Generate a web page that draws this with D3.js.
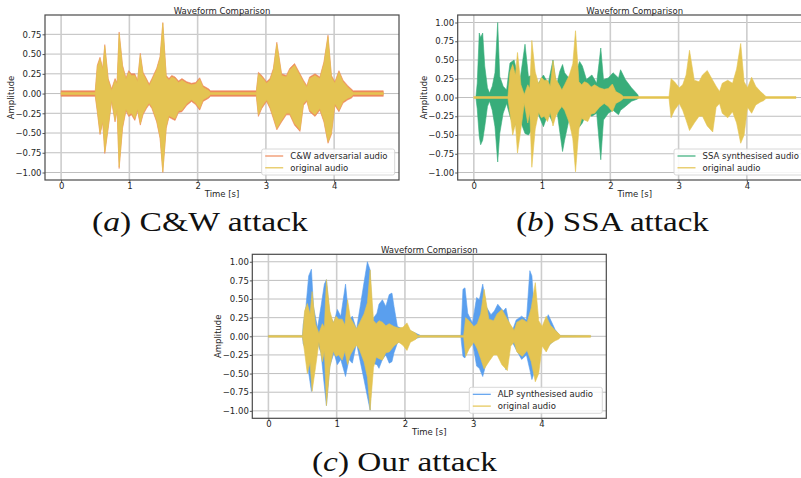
<!DOCTYPE html>
<html>
<head>
<meta charset="utf-8">
<script src="https://cdn.jsdelivr.net/npm/d3@7"></script>
<style>
  body { margin: 0; background: #fff; }
  svg { display: block; }
</style>
</head>
<body>
<div id="fig"></div>
<script>
// envelope of each waveform: [time (s), upper, lower]
var originalAudio = [
  [0, 0.012, -0.012], [0.50, 0.012, -0.012], [0.53, 0.34, -0.21], [0.57, 0.44, -0.50],
  [0.61, 0.30, -0.35], [0.64, 0.60, -0.74], [0.69, 0.17, -0.42], [0.74, 0.04, -0.08],
  [0.79, 0.17, -0.34], [0.82, 0.12, -0.20], [0.85, 0.76, -0.93], [0.90, 0.34, -0.42],
  [0.95, 0.18, -0.20], [0.99, 0.27, -0.27], [1.03, 0.23, -0.25], [1.08, 0.23, -0.32],
  [1.12, 0.15, -0.20], [1.16, 0.49, -0.38], [1.20, 0.25, -0.25], [1.25, 0.17, -0.17],
  [1.29, 0.10, -0.12], [1.33, 0.17, -0.17], [1.40, 0.30, -0.34], [1.45, 0.45, -0.55],
  [1.49, 0.89, -0.99], [1.54, 0.21, -0.42], [1.58, 0.17, -0.28], [1.62, 0.21, -0.30],
  [1.67, 0.19, -0.32], [1.72, 0.14, -0.22], [1.77, 0.17, -0.21], [1.84, 0.13, -0.13],
  [1.91, 0.11, -0.08], [1.97, 0.12, -0.12], [2.03, 0.18, -0.19], [2.08, 0.08, -0.08],
  [2.16, 0.04, -0.04], [2.19, 0.012, -0.012], [2.86, 0.012, -0.012], [2.89, 0.25, -0.27],
  [2.94, 0.21, -0.17], [3.01, 0.13, -0.08], [3.06, 0.17, -0.17], [3.11, 0.30, -0.30],
  [3.16, 0.63, -0.44], [3.23, 0.23, -0.34], [3.30, 0.21, -0.25], [3.35, 0.30, -0.25],
  [3.42, 0.36, -0.38], [3.50, 0.23, -0.46], [3.55, 0.15, -0.13], [3.60, 0.08, -0.08],
  [3.64, 0.19, -0.21], [3.72, 0.23, -0.27], [3.79, 0.19, -0.19], [3.85, 0.38, -0.34],
  [3.91, 0.72, -0.61], [3.96, 0.21, -0.50], [4.01, 0.13, -0.13], [4.07, 0.27, -0.21],
  [4.13, 0.15, -0.10], [4.20, 0.08, -0.06], [4.25, 0.04, -0.04], [4.28, 0.012, -0.012],
  [4.72, 0.012, -0.012]
];

var cwAudio = [
  [0, 0.035, -0.035], [0.50, 0.035, -0.035], [0.53, 0.36, -0.23], [0.57, 0.46, -0.52],
  [0.61, 0.32, -0.37], [0.64, 0.62, -0.76], [0.69, 0.19, -0.44], [0.74, 0.06, -0.10],
  [0.79, 0.19, -0.36], [0.82, 0.14, -0.22], [0.85, 0.78, -0.95], [0.90, 0.36, -0.44],
  [0.95, 0.20, -0.22], [0.99, 0.29, -0.29], [1.03, 0.25, -0.27], [1.08, 0.25, -0.34],
  [1.12, 0.17, -0.22], [1.16, 0.51, -0.40], [1.20, 0.27, -0.27], [1.25, 0.19, -0.19],
  [1.29, 0.12, -0.14], [1.33, 0.19, -0.19], [1.40, 0.32, -0.36], [1.45, 0.47, -0.57],
  [1.49, 0.90, -1.00], [1.54, 0.23, -0.44], [1.58, 0.19, -0.30], [1.62, 0.23, -0.32],
  [1.67, 0.21, -0.34], [1.72, 0.16, -0.24], [1.77, 0.19, -0.23], [1.84, 0.15, -0.15],
  [1.91, 0.13, -0.10], [1.97, 0.14, -0.14], [2.03, 0.20, -0.21], [2.08, 0.10, -0.10],
  [2.16, 0.06, -0.06], [2.19, 0.035, -0.035], [2.86, 0.035, -0.035], [2.89, 0.27, -0.29],
  [2.94, 0.23, -0.19], [3.01, 0.15, -0.10], [3.06, 0.19, -0.19], [3.11, 0.32, -0.32],
  [3.16, 0.65, -0.46], [3.23, 0.25, -0.36], [3.30, 0.23, -0.27], [3.35, 0.32, -0.27],
  [3.42, 0.38, -0.40], [3.50, 0.25, -0.48], [3.55, 0.17, -0.15], [3.60, 0.10, -0.10],
  [3.64, 0.21, -0.23], [3.72, 0.25, -0.29], [3.79, 0.21, -0.21], [3.85, 0.40, -0.36],
  [3.91, 0.74, -0.63], [3.96, 0.23, -0.52], [4.01, 0.15, -0.15], [4.07, 0.29, -0.23],
  [4.13, 0.17, -0.12], [4.20, 0.10, -0.08], [4.25, 0.06, -0.06], [4.28, 0.035, -0.035],
  [4.72, 0.035, -0.035]
];

var ssaAudio = [
  [0.03, 0, 0], [0.05, 0.19, -0.15], [0.08, 0.86, -0.52], [0.10, 0.80, -0.63],
  [0.13, 0.86, -0.57], [0.16, 0.42, -0.39], [0.20, 0.13, -0.12], [0.23, 0.06, -0.05],
  [0.27, 0.15, -0.17], [0.31, 0.33, -0.39], [0.35, 1.00, -0.86], [0.38, 0.28, -0.48],
  [0.43, 0.15, -0.21], [0.48, 0.10, -0.08], [0.53, 0.46, -0.25], [0.59, 0.50, -0.39],
  [0.67, 0.19, -0.28], [0.75, 0.71, -0.48], [0.80, 0.28, -0.50], [0.87, 0.30, -0.40],
  [0.92, 0.15, -0.17], [1.02, 0.30, -0.39], [1.09, 0.19, -0.21], [1.16, 0.50, -0.34],
  [1.21, 0.15, -0.12], [1.26, 0.35, -0.46], [1.30, 0.44, -0.72], [1.33, 0.33, -0.57],
  [1.41, 0.24, -0.23], [1.48, 0.30, -0.35], [1.55, 0.48, -0.39], [1.59, 0.42, -0.34],
  [1.65, 0.24, -0.21], [1.73, 0.30, -0.25], [1.80, 0.19, -0.21], [1.86, 0.66, -0.83],
  [1.90, 0.24, -0.30], [1.97, 0.26, -0.21], [2.04, 0.33, -0.17], [2.12, 0.26, -0.23],
  [2.15, 0.37, -0.17], [2.22, 0.24, -0.12], [2.31, 0.13, -0.05], [2.40, 0.04, -0.02],
  [2.42, 0, 0]
];

var alpAudio = [
  [0, 0.008, -0.008], [0.50, 0.008, -0.008], [0.51, 0.16, -0.10], [0.55, 0.40, -0.18],
  [0.59, 0.81, -0.49], [0.63, 0.90, -0.74], [0.66, 0.40, -0.40], [0.72, 0.11, -0.09],
  [0.77, 0.40, -0.22], [0.82, 0.70, -0.67], [0.85, 0.76, -0.93], [0.90, 0.27, -0.40],
  [0.96, 0.18, -0.22], [1.01, 0.36, -0.38], [1.06, 0.27, -0.31], [1.13, 0.70, -0.54],
  [1.18, 0.22, -0.31], [1.23, 0.27, -0.36], [1.29, 0.09, -0.09], [1.35, 0.43, -0.36],
  [1.40, 0.72, -0.58], [1.45, 1.00, -0.81], [1.49, 0.89, -0.99], [1.52, 0.22, -0.36],
  [1.59, 0.31, -0.38], [1.62, 0.43, -0.43], [1.67, 0.49, -0.31], [1.72, 0.40, -0.25],
  [1.77, 0.56, -0.36], [1.81, 0.58, -0.34], [1.84, 0.40, -0.22], [1.89, 0.13, -0.09],
  [1.94, 0.11, -0.07], [2.01, 0.09, -0.05], [2.09, 0.07, -0.05], [2.23, 0.01, -0.01],
  [2.82, 0.01, -0.01], [2.85, 0.63, -0.27], [2.88, 0.65, -0.29], [2.92, 0.31, -0.13],
  [2.99, 0.18, -0.07], [3.05, 0.52, -0.40], [3.09, 0.49, -0.43], [3.14, 0.70, -0.54],
  [3.19, 0.40, -0.36], [3.26, 0.29, -0.22], [3.31, 0.34, -0.20], [3.36, 0.43, -0.13],
  [3.44, 0.34, -0.22], [3.48, 0.38, -0.45], [3.53, 0.16, -0.13], [3.58, 0.09, -0.09],
  [3.63, 0.22, -0.18], [3.71, 0.27, -0.31], [3.78, 0.22, -0.25], [3.83, 0.88, -0.45],
  [3.86, 0.81, -0.58], [3.90, 0.27, -0.47], [3.95, 0.13, -0.13], [4.02, 0.11, -0.09],
  [4.10, 0.29, -0.13], [4.20, 0.09, -0.045], [4.27, 0.01, -0.01], [4.72, 0.005, -0.005]
];

var xTicks = [0, 1, 2, 3, 4];
var yTicksA = [0.75, 0.5, 0.25, 0, -0.25, -0.5, -0.75, -1];
var yTicksBC = [1, 0.75, 0.5, 0.25, 0, -0.25, -0.5, -0.75, -1];
var legendA = ["C&W adversarial audio", "original audio"];
var legendB = ["SSA synthesised audio", "original audio"];
var legendC = ["ALP synthesised audio", "original audio"];
var captions = [["(", "a", ") C&W attack"], ["(", "b", ") SSA attack"], ["(", "c", ") Our attack"]];

var colors = {cw: "#ee8a5c", ssa: "#38ad7a", alp: "#5a9fee", orig: "#e4c452"};

var W = 801, H = 478;
var svg = d3.select("#fig").append("svg")
    .attr("width", W).attr("height", H)
    .style("font-family", "'DejaVu Sans', sans-serif");

svg.append("rect").attr("width", W).attr("height", H).attr("fill", "#fff");

function panel(p) {
    var g = svg.append("g").attr("transform", `translate(${p.left},${p.top})`);
    var w = 354, h = p.h;
    var x = d3.scaleLinear().domain([-0.236, 4.95]).range([0, w]);
    var y = d3.scaleLinear().domain(p.yDomain).range([h, 0]);

    // grid
    g.append("g").selectAll("line").data(p.yTicks).join("line")
        .attr("x1", 0).attr("x2", w)
        .attr("y1", d => y(d)).attr("y2", d => y(d))
        .attr("stroke", "#bfbfbf").attr("stroke-width", 1);
    g.append("g").selectAll("line").data(xTicks).join("line")
        .attr("y1", 0).attr("y2", h)
        .attr("x1", d => x(d)).attr("x2", d => x(d))
        .attr("stroke", "#cdcdcd").attr("stroke-width", 1.6);

    var area = d3.area()
        .x(d => x(d[0]))
        .y0(d => y(d[2]))
        .y1(d => y(d[1]));

    var clipId = "clip" + p.id;
    g.append("clipPath").attr("id", clipId)
        .append("rect").attr("width", w).attr("height", h);
    var plot = g.append("g").attr("clip-path", `url(#${clipId})`);
    p.series.forEach(s => {
        plot.append("path").datum(s.data)
            .attr("d", area)
            .attr("fill", s.color)
            .attr("stroke", s.color)
            .attr("stroke-width", 0.6);
    });

    // axes
    var xa = g.append("g").attr("transform", `translate(0,${h})`)
        .call(d3.axisBottom(x).tickValues(xTicks).tickSize(2.5).tickPadding(0.5).tickFormat(d3.format("d")));
    var ya = g.append("g")
        .call(d3.axisLeft(y).tickValues(p.yTicks).tickSize(2.5).tickPadding(1).tickFormat(d3.format(".2f")));
    [xa, ya].forEach(a => {
        a.select(".domain").remove();
        a.selectAll("text").attr("font-size", 8.5).attr("fill", "#262626").attr("font-family", "'DejaVu Sans', sans-serif");
        a.selectAll("line").attr("stroke", "#444").attr("stroke-width", 0.9);
    });

    g.append("rect").attr("width", w).attr("height", h)
        .attr("fill", "none").attr("stroke", "#4a4a4a").attr("stroke-width", 1.2);

    g.append("text").attr("x", w / 2).attr("y", -1.5)
        .attr("text-anchor", "middle").attr("font-size", 8.5).attr("fill", "#262626")
        .text("Waveform Comparison");
    g.append("text").attr("x", w / 2).attr("y", h + 16.5)
        .attr("text-anchor", "middle").attr("font-size", 8.5).attr("fill", "#262626")
        .text("Time [s]");
    g.append("text").attr("transform", `translate(-31,${h / 2}) rotate(-90)`)
        .attr("text-anchor", "middle").attr("font-size", 8.5).attr("fill", "#262626")
        .text("Amplitude");

    // legend
    var lg = g.append("g").attr("transform", `translate(${p.legendX},${h - 31})`);
    lg.append("rect").attr("width", 133).attr("height", 26).attr("rx", 2)
        .attr("fill", "#fff").attr("fill-opacity", 0.85)
        .attr("stroke", "#d4d4d4").attr("stroke-width", 0.9);
    var rows = lg.selectAll("g.row").data(p.legend).join("g")
        .attr("transform", (d, i) => `translate(0,${7 + i * 11.8})`);
    rows.append("line").attr("x1", 3.5).attr("x2", 21.5)
        .attr("stroke", (d, i) => p.series[i].color).attr("stroke-width", 1.2);
    rows.append("text").attr("x", 28.5).attr("y", 3).attr("font-size", 8.5).attr("fill", "#262626")
        .text(d => d);
}

panel({id: "a", left: 45, top: 15, h: 165, yDomain: [-1.095, 0.995], yTicks: yTicksA,
    series: [{data: cwAudio, color: colors.cw}, {data: originalAudio, color: colors.orig}],
    legend: legendA, legendX: 216.7});
panel({id: "b", left: 457.7, top: 15, h: 165, yDomain: [-1.1, 1.1], yTicks: yTicksBC,
    series: [{data: ssaAudio, color: colors.ssa}, {data: originalAudio, color: colors.orig}],
    legend: legendB, legendX: 216.3});
panel({id: "c", left: 252.3, top: 254.3, h: 164, yDomain: [-1.1, 1.1], yTicks: yTicksBC,
    series: [{data: alpAudio, color: colors.alp}, {data: originalAudio, color: colors.orig}],
    legend: legendC, legendX: 217});

// captions under the sub-figures: [left, baseline, width]
var capPos = [[92, 231, 216], [516, 231, 193], [312, 470.5, 185]];
captions.forEach((c, i) => {
    var t = svg.append("text")
        .attr("font-family", "'Liberation Serif', serif").attr("font-size", 28)
        .attr("fill", "#111");
    t.append("tspan").text(c[0]);
    t.append("tspan").attr("font-style", "italic").text(c[1]);
    t.append("tspan").text(c[2]);
    var len = t.node().getComputedTextLength();
    t.attr("transform", `translate(${capPos[i][0]},${capPos[i][1]}) scale(${capPos[i][2] / len},1)`);
});
</script>
</body>
</html>
